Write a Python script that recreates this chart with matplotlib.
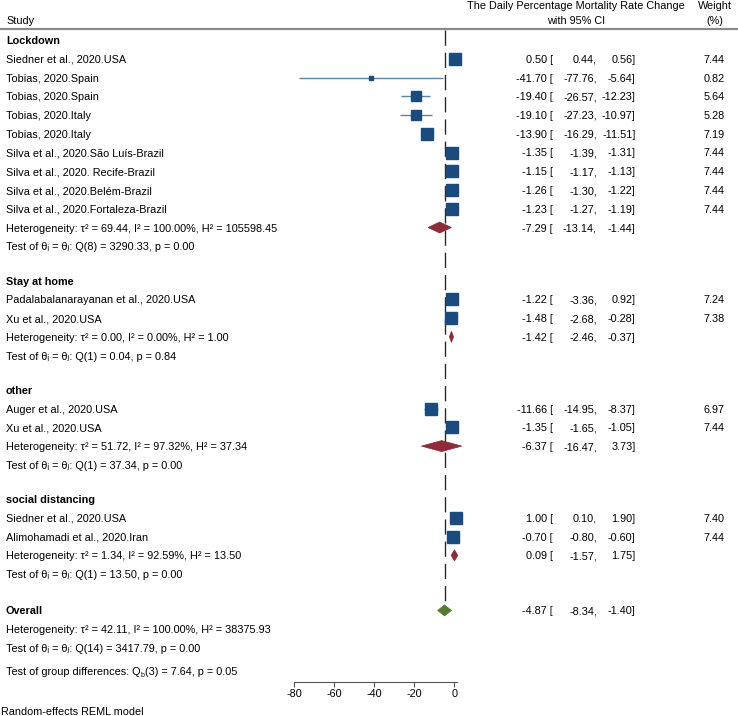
import numpy as np
import matplotlib.pyplot as plt
from matplotlib.patches import Polygon

plt.rcParams['font.family'] = ['Liberation Sans', 'DejaVu Sans']

# ====================================================
# data
groups = ['Lockdown', 'Stay at home', 'other', 'social distancing']

studies = [
    ['Siedner et al., 2020.USA', 'Tobias, 2020.Spain', 'Tobias, 2020.Spain',
     'Tobias, 2020.Italy', 'Tobias, 2020.Italy', 'Silva et al., 2020.São Luís-Brazil',
     'Silva et al., 2020. Recife-Brazil', 'Silva et al., 2020.Belém-Brazil',
     'Silva et al., 2020.Fortaleza-Brazil'],
    ['Padalabalanarayanan et al., 2020.USA', 'Xu et al., 2020.USA'],
    ['Auger et al., 2020.USA', 'Xu et al., 2020.USA'],
    ['Siedner et al., 2020.USA', 'Alimohamadi et al., 2020.Iran'],
]
est = [
    [0.50, -41.70, -19.40, -19.10, -13.90, -1.35, -1.15, -1.26, -1.23],
    [-1.22, -1.48],
    [-11.66, -1.35],
    [1.00, -0.70],
]
lower = [
    [0.44, -77.76, -26.57, -27.23, -16.29, -1.39, -1.17, -1.30, -1.27],
    [-3.36, -2.68],
    [-14.95, -1.65],
    [0.10, -0.80],
]
upper = [
    [0.56, -5.64, -12.23, -10.97, -11.51, -1.31, -1.13, -1.22, -1.19],
    [0.92, -0.28],
    [-8.37, -1.05],
    [1.90, -0.60],
]
weights = [
    [7.44, 0.82, 5.64, 5.28, 7.19, 7.44, 7.44, 7.44, 7.44],
    [7.24, 7.38],
    [6.97, 7.44],
    [7.40, 7.44],
]

sub_est = [-7.29, -1.42, -6.37, 0.09]
sub_lower = [-13.14, -2.46, -16.47, -1.57]
sub_upper = [-1.44, -0.37, 3.73, 1.75]
sub_het = [
    'Heterogeneity: τ² = 69.44, I² = 100.00%, H² = 105598.45',
    'Heterogeneity: τ² = 0.00, I² = 0.00%, H² = 1.00',
    'Heterogeneity: τ² = 51.72, I² = 97.32%, H² = 37.34',
    'Heterogeneity: τ² = 1.34, I² = 92.59%, H² = 13.50',
]
sub_test = [
    'Test of θᵢ = θⱼ: Q(8) = 3290.33, p = 0.00',
    'Test of θᵢ = θⱼ: Q(1) = 0.04, p = 0.84',
    'Test of θᵢ = θⱼ: Q(1) = 37.34, p = 0.00',
    'Test of θᵢ = θⱼ: Q(1) = 13.50, p = 0.00',
]

overall = [-4.87, -8.34, -1.40]
overall_het = 'Heterogeneity: τ² = 42.11, I² = 100.00%, H² = 38375.93'
overall_test = 'Test of θᵢ = θⱼ: Q(14) = 3417.79, p = 0.00'
group_test = ['Test of group differences: Q', 'b', '(3) = 7.64, p = 0.05']

xticks = [-80, -60, -40, -20, 0]

# ====================================================
W, H = 738, 716
FS = 7.8
SQ_BLUE = '#1b4b7c'
CI_BLUE = '#5884ad'
RED = '#8e2b38'
GREEN = '#557a2c'
VA = 'center_baseline'

fig = plt.figure(figsize=(W / 100, H / 100), dpi=100)
renderer = fig.canvas.get_renderer()

# text layer in pixel units
tx = fig.add_axes([0, 0, 1, 1])
tx.set_xlim(0, W)
tx.set_ylim(H, 0)
tx.axis('off')

# plot layer: 2 px per unit, zero at pixel 454.3
zero_px = 454.3
ppu = 2.0
px_l, px_r = 280, 470
ax = fig.add_axes([px_l / W, 0, (px_r - px_l) / W, 1])
ax.set_xlim((px_l - zero_px) / ppu, (px_r - zero_px) / ppu)
ax.set_ylim(H, 0)
ax.patch.set_alpha(0)
for s in ['top', 'right', 'left']:
    ax.spines[s].set_visible(False)


def fmt(v):
    return '%.2f' % v


def label(x, y, s, size=FS, **kw):
    return tx.text(x, y, s, va=VA, fontsize=size, **kw)


def num_cols(y, e, lo, hi, w=None):
    label(553, y, fmt(e) + ' [', ha='right')
    label(597, y, fmt(lo) + ',', ha='right')
    label(635.5, y, fmt(hi) + ']', ha='right')
    if w is not None:
        label(725, y, fmt(w), ha='right')


def diamond(y, e, lo, hi, color, half=5.5):
    pts = [(lo, y), (e, y - half), (hi, y), (e, y + half)]
    ax.add_patch(Polygon(pts, closed=True, facecolor=color, edgecolor=color, lw=0.5, zorder=3))


# header
label(6, 20, 'Study', ha='left')
label(576, 5, 'The Daily Percentage Mortality Rate Change', ha='center')
label(576, 20, 'with 95% CI', ha='center')
label(715, 5, 'Weight', ha='center')
label(715, 20, '(%)', ha='center')
tx.plot([0, W], [29, 29], color='#8a8a8a', lw=1.6)

row = 18.75
y = 40.0
for g in range(len(groups)):
    label(6, y, groups[g], ha='left', fontweight='bold')
    y += row
    for i in range(len(studies[g])):
        label(6, y, studies[g][i], ha='left')
        ax.hlines(y, lower[g][i], upper[g][i], color=CI_BLUE, lw=1.0, zorder=2)
        ms = 8.7 * np.sqrt(weights[g][i] / 7.44)
        ax.plot(est[g][i], y, marker='s', markersize=ms, color=SQ_BLUE,
                linestyle='none', zorder=3)
        num_cols(y, est[g][i], lower[g][i], upper[g][i], weights[g][i])
        y += row
    label(6, y, sub_het[g], ha='left')
    diamond(y, sub_est[g], sub_lower[g], sub_upper[g], RED)
    num_cols(y, sub_est[g], sub_lower[g], sub_upper[g])
    y += row
    label(6, y, sub_test[g], ha='left')
    y += 34.3

y += 2.0
label(6, y, 'Overall', ha='left', fontweight='bold')
diamond(y, overall[0], overall[1], overall[2], GREEN)
num_cols(y, overall[0], overall[1], overall[2])
y_overall = y
y += 19.0
label(6, y, overall_het, ha='left')
y += 18.5
label(6, y, overall_test, ha='left')
y += 23.5

# group differences line with subscript b, placed piece by piece
t1 = label(6, y, group_test[0], ha='left')
x_end = t1.get_window_extent(renderer).x1
t2 = label(x_end + 0.3, y + 3.0, group_test[1], size=FS * 0.65, ha='left')
x_end = t2.get_window_extent(renderer).x1
label(x_end + 0.3, y, group_test[2], ha='left')

# overall effect line
ax.plot([overall[0], overall[0]], [30, y_overall - 5], color='#2b2b2b', lw=1.0,
        dashes=(11, 5), zorder=1)

# x axis
ax.spines['bottom'].set_position(('data', 682))
ax.spines['bottom'].set_bounds(-80, 1.5)
ax.spines['bottom'].set_color('#555555')
ax.spines['bottom'].set_linewidth(0.8)
ax.set_xticks(xticks)
ax.set_xticklabels([str(t) for t in xticks])
ax.tick_params(axis='x', direction='out', length=3.5, width=0.8, colors='#555555',
               labelcolor='black', labelsize=FS, pad=1.5)
ax.set_yticks([])

label(1, 711, 'Random-effects REML model', ha='left')

fig.savefig('out.png', dpi=100)
